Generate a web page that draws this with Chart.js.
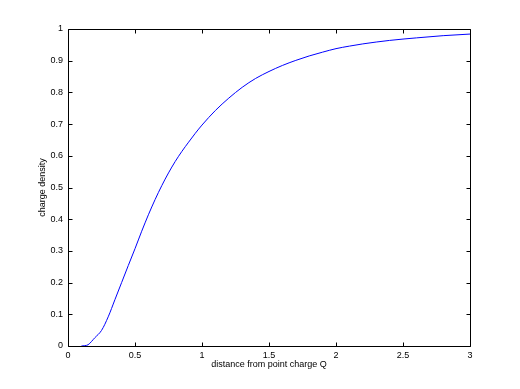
<!DOCTYPE html>
<html><head><meta charset="utf-8">
<script src="https://cdn.jsdelivr.net/npm/chart.js@4"></script>
<style>html,body{margin:0;padding:0;background:#fff;overflow:hidden}</style>
</head><body>
<canvas id="c" width="520" height="389"></canvas>
<script>
const distance = [0.1, 0.125, 0.15, 0.2, 0.25, 0.3, 0.35, 0.4, 0.45, 0.5, 0.55, 0.6, 0.65, 0.7, 0.75, 0.8, 0.85, 0.9, 0.95, 1.0, 1.1, 1.2, 1.3, 1.4, 1.5, 1.6, 1.7, 1.8, 1.9, 2.0, 2.1, 2.2, 2.4, 2.6, 2.8, 3.0];
const density = [0, 0.001, 0.004, 0.026, 0.049, 0.092, 0.146, 0.2, 0.254, 0.307, 0.362, 0.414, 0.462, 0.506, 0.546, 0.582, 0.614, 0.643, 0.671, 0.697, 0.743, 0.782, 0.816, 0.844, 0.866, 0.885, 0.901, 0.915, 0.927, 0.938, 0.946, 0.953, 0.964, 0.972, 0.979, 0.984];
const xTicks = [0, 0.5, 1, 1.5, 2, 2.5, 3];
const yTicks = [0, 0.1, 0.2, 0.3, 0.4, 0.5, 0.6, 0.7, 0.8, 0.9, 1];
const xTitle = 'distance from point charge Q';
const yTitle = 'charge density';

const FONT = {family: '"Liberation Sans", Arial, Helvetica, sans-serif', size: 9};

const framePlugin = {
  id: 'frame',
  afterDraw(chart) {
    const ctx = chart.ctx, a = chart.chartArea;
    const xs = chart.scales.x, ys = chart.scales.y;
    const L = Math.round(a.left) + 0.5, R = Math.round(a.right) + 0.5;
    const T = Math.round(a.top) + 0.5, B = Math.round(a.bottom) + 0.5;
    const len = 4;
    ctx.save();
    ctx.strokeStyle = '#000';
    ctx.lineWidth = 1;
    ctx.beginPath();
    ctx.rect(L, T, R - L, B - T);
    xTicks.forEach(v => {
      const p = Math.round(xs.getPixelForValue(v)) + 0.5;
      ctx.moveTo(p, B); ctx.lineTo(p, B - len);
      ctx.moveTo(p, T); ctx.lineTo(p, T + len);
    });
    yTicks.forEach(v => {
      const p = Math.round(ys.getPixelForValue(v)) + 0.5;
      ctx.moveTo(L, p); ctx.lineTo(L + len, p);
      ctx.moveTo(R, p); ctx.lineTo(R - len, p);
    });
    ctx.stroke();
    ctx.restore();
  }
};

new Chart(document.getElementById('c'), {
  type: 'line',
  data: {
    datasets: [{
      data: distance.map((d, i) => ({x: d, y: density[i]})),
      borderColor: '#0000ff',
      borderWidth: 1,
      pointRadius: 0,
      fill: false,
      cubicInterpolationMode: 'monotone'
    }]
  },
  options: {
    responsive: false,
    animation: false,
    devicePixelRatio: 1,
    layout: {padding: {left: 0, top: 29, right: 50, bottom: 0}},
    plugins: {legend: {display: false}, tooltip: {enabled: false}},
    scales: {
      x: {
        type: 'linear', min: 0, max: 3,
        grid: {display: false, drawTicks: false}, border: {display: false},
        afterBuildTicks: s => { s.ticks = xTicks.map(v => ({value: v})); },
        afterFit: s => { s.height = 43; },
        ticks: {color: '#000', font: FONT, padding: 4, maxRotation: 0, autoSkip: false, callback: v => String(v)},
        title: {display: true, text: xTitle, color: '#000', font: FONT, padding: {top: 0, bottom: 19}}
      },
      y: {
        type: 'linear', min: 0, max: 1,
        grid: {display: false, drawTicks: false}, border: {display: false},
        afterBuildTicks: s => { s.ticks = yTicks.map(v => ({value: v})); },
        afterFit: s => { s.width = 68; },
        ticks: {color: '#000', font: FONT, padding: 5, autoSkip: false, callback: v => String(v)},
        title: {display: true, text: yTitle, color: '#000', font: FONT, padding: {top: 37, bottom: 0}}
      }
    }
  },
  plugins: [framePlugin]
});
</script>
</body></html>
